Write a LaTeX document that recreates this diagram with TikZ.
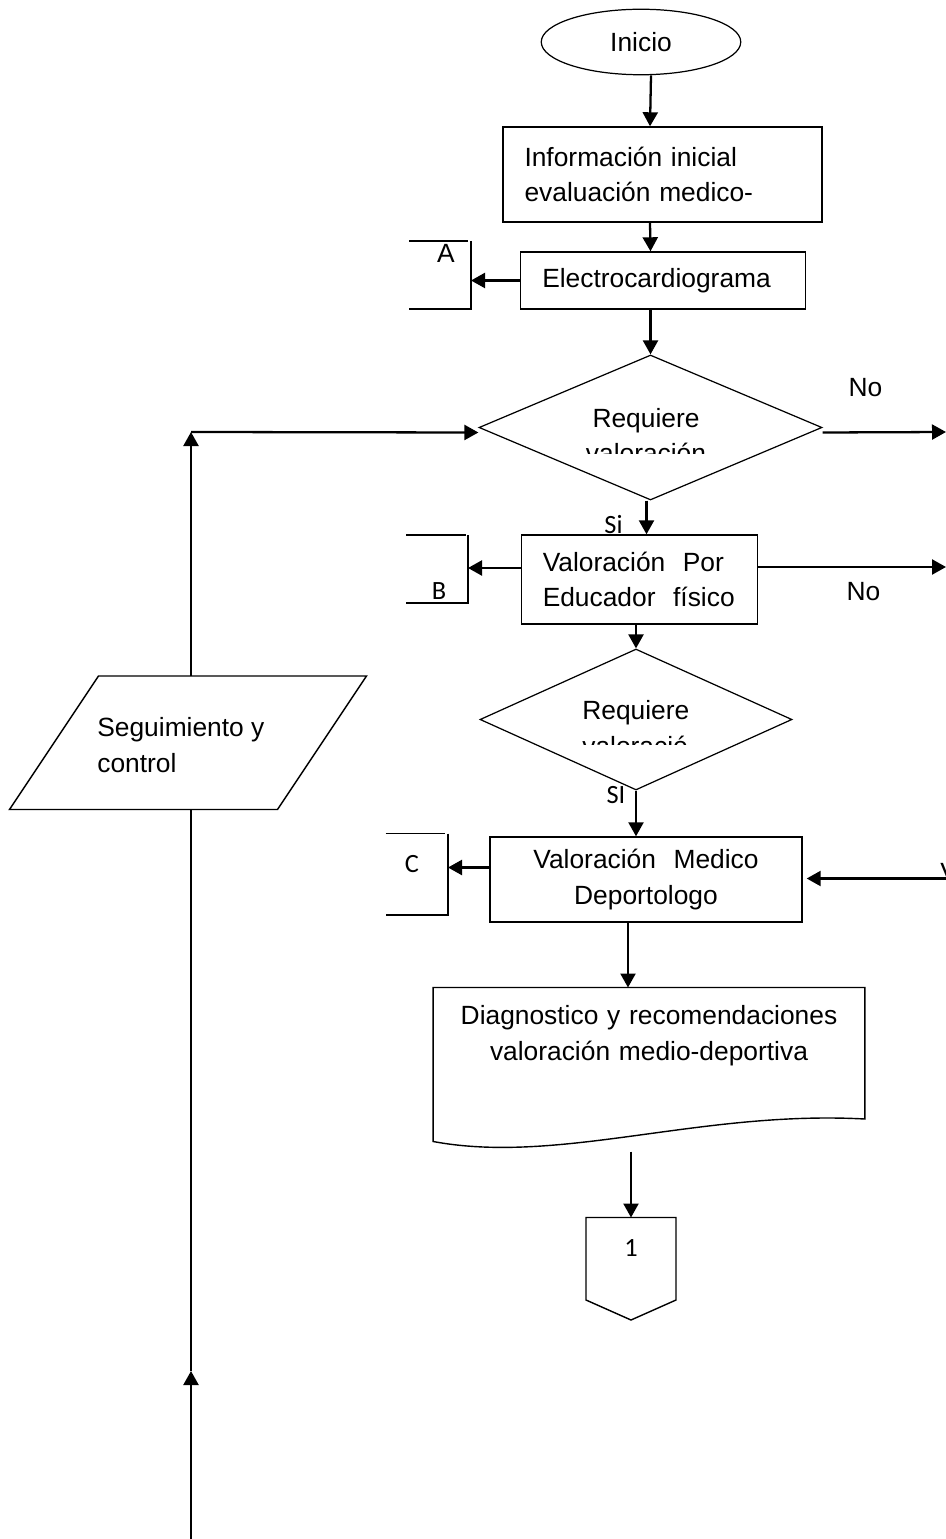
\documentclass[tikz,border=0pt]{standalone}
\usepackage{fontspec}
\setmainfont{Liberation Sans}
\newfontfamily\calibri{Carlito}
\usetikzlibrary{
  arrows.meta,
  positioning,
  shapes.geometric
}
\tikzset{
  texto/.style={
    font=\fontsize{15}{20}\selectfont,
    inner sep=0pt
  },
  letra/.style={
    font=\calibri\fontsize{15}{18}\selectfont,
    inner sep=0pt
  },
  caja/.style={
    rectangle,
    draw=black,
    line width=0.8pt,
    align=left,
    inner xsep=0.43cm,
    inner ysep=0pt,
    font=\fontsize{15}{20}\selectfont
  },
  terminal/.style={
    ellipse,
    draw=black,
    line width=0.7pt,
    minimum width=3.99cm,
    minimum height=1.31cm,
    font=\fontsize{15}{20}\selectfont
  },
  decision/.style={
    diamond,
    draw=black,
    line width=0.7pt,
    inner sep=0pt
  },
  flecha/.style={
    -{Triangle[length=0.28cm, width=0.3cm]},
    line width=1.3pt
  },
  linea/.style={
    line width=0.8pt
  }
}

\begin{document}
\begin{tikzpicture}
\useasboundingbox (0,0) rectangle (18.92,-30.78);

\node[terminal] (inicio) at (12.82,-0.84) {Inicio};
\node[caja, text width=5.52cm, minimum height=1.9cm] (info) at (13.25,-3.49) {Información inicial\\evaluación medico-};
\node[caja, text width=4.83cm, minimum height=1.14cm] (ecg) at (13.26,-5.61) {Electrocardiograma};
\node[decision, minimum width=6.86cm, minimum height=2.9cm] (req1) at (13.01,-8.55) {};
\node[caja, text width=3.87cm, minimum height=1.78cm] (edu) at (12.79,-11.59) {Valoración\ \ Por\\Educador\ \ físico};
\node[decision, minimum width=6.24cm, minimum height=2.82cm] (req2) at (12.72,-14.39) {};
\node[caja, align=center, text width=5.38cm, minimum height=1.7cm] (med) at (12.92,-17.59) {Valoración\ \ Medico\\Deportologo};
\node[texto, text width=8.62cm, align=center, inner ysep=0.36cm, anchor=north] (diag) at (12.98,-19.75) {Diagnostico y recomendaciones\\valoración medio-deportiva};
\node[letra] (pag) at (12.62,-24.97) {1};
\node[texto, align=left, anchor=base west] (seg) at (1.94,-15.44) {Seguimiento y\\control};

\begin{scope}
  \clip (10.5,-7.9) rectangle (15.5,-9.06);
  \node[texto, align=center, anchor=base] (txt1) at (12.92,-9.26) {Requiere\\valoración};
\end{scope}
\begin{scope}
  \clip (11.5,-13.8) rectangle (13.77,-14.88);
  \node[texto, align=left, anchor=base west] (txt2) at (11.64,-15.1) {Requiere\\valoración};
\end{scope}

\node[texto] (noA) at (17.31,-7.76) {No};
\node[texto] (noB) at (17.27,-11.83) {No};
\node[letra] (siA) at (12.27,-10.5) {Si};
\node[letra] (siB) at (12.32,-15.9) {SI};
\node[texto, anchor=base west] (vt) at (18.8,-17.62) {V};

\coordinate (esq) at (3.82,-8.64);
\coordinate (medio) at (3.82,-27.42);
\coordinate (fondo) at (3.82,-30.78);
\coordinate (finA) at (18.92,-8.64);
\coordinate (finB) at (18.92,-11.34);
\coordinate (vuelta) at (18.92,-17.57);
\coordinate (conA) at (9.42,-5.61);
\coordinate (conB) at (9.36,-11.36);
\coordinate (conC) at (8.96,-17.35);
\coordinate (segc) at (3.76,-14.86);
\coordinate (segarriba) at (3.76,-13.52);
\coordinate (segabajo) at (3.76,-16.19);

\draw[linea] ([shift={(-1.79,1.34)}]segc) -- ++(5.36,0) -- ++(-1.78,-2.67) -- ++(-5.36,0) -- cycle;

\draw[linea] (8.18,-4.82) -- (9.36,-4.82);
\draw[linea] (9.42,-4.82) -- (9.42,-6.18) -- (8.18,-6.18);
\node[texto] (letA) at (8.92,-5.07) {A};
\draw[linea] (8.12,-10.7) -- (9.31,-10.7);
\draw[linea] (9.36,-10.7) -- (9.36,-12.06) -- (8.12,-12.06);
\node[letra] (letB) at (8.78,-11.83) {B};
\draw[linea] (7.71,-16.67) -- (8.89,-16.67);
\draw[linea] (8.96,-16.67) -- (8.96,-18.3) -- (7.71,-18.3);
\node[letra] (letC) at (8.24,-17.28) {C};

\draw[linea] (diag.north west) -- (diag.north east) -- ([yshift=-2.63cm]diag.north east)
  .. controls +(-3.29,0.18) and +(2.53,-0.47) .. ([yshift=-3.08cm]diag.north west) -- cycle;
\draw[linea] ([shift={(-0.9,0.62)}]pag.center) -- ++(1.8,0) -- ++(0,-1.65) -- ++(-0.9,-0.4) -- ++(-0.9,0.4) -- cycle;

\draw[flecha] ([xshift=0.2cm]inicio.south) -- ([xshift=-0.25cm]info.north);
\draw[flecha] ([xshift=-0.25cm]info.south) -- ([xshift=-0.25cm]ecg.north);
\draw[flecha] (ecg.west) -- (ecg.west -| conA);
\draw[flecha] (ecg.south -| req1.north) -- (req1.north);
\draw[flecha] ([yshift=-0.1cm]req1.east) -- (finA);
\draw[flecha] (esq) -- ([yshift=-0.1cm]req1.west);
\draw[flecha] (segarriba -| esq) -- (esq);
\draw[flecha] ([xshift=-0.08cm]req1.south) -- ([xshift=-0.08cm]req1.south |- edu.north);
\draw[flecha] ([yshift=0.23cm]edu.west) -- ([yshift=0.23cm]edu.west -| conB);
\draw[flecha] ([yshift=0.25cm]edu.east) -- (finB);
\draw[flecha] (edu.south -| req2.north) -- (req2.north);
\draw[flecha] (req2.south) -- (req2.south |- med.north);
\draw[flecha] ([yshift=0.24cm]med.west) -- ([yshift=0.24cm]med.west -| conC);
\draw[flecha] (vuelta) -- ([xshift=0.08cm]med.east |- vuelta);
\draw[flecha] ([xshift=-0.36cm]med.south) -- ([xshift=-0.36cm]med.south |- diag.north);
\draw[flecha] ([yshift=-3.28cm]diag.north -| pag) -- ([yshift=0.62cm]pag.center);
\draw[linea] (segabajo -| esq) -- (medio);
\draw[flecha] (fondo) -- (medio);
\end{tikzpicture}
\end{document}
